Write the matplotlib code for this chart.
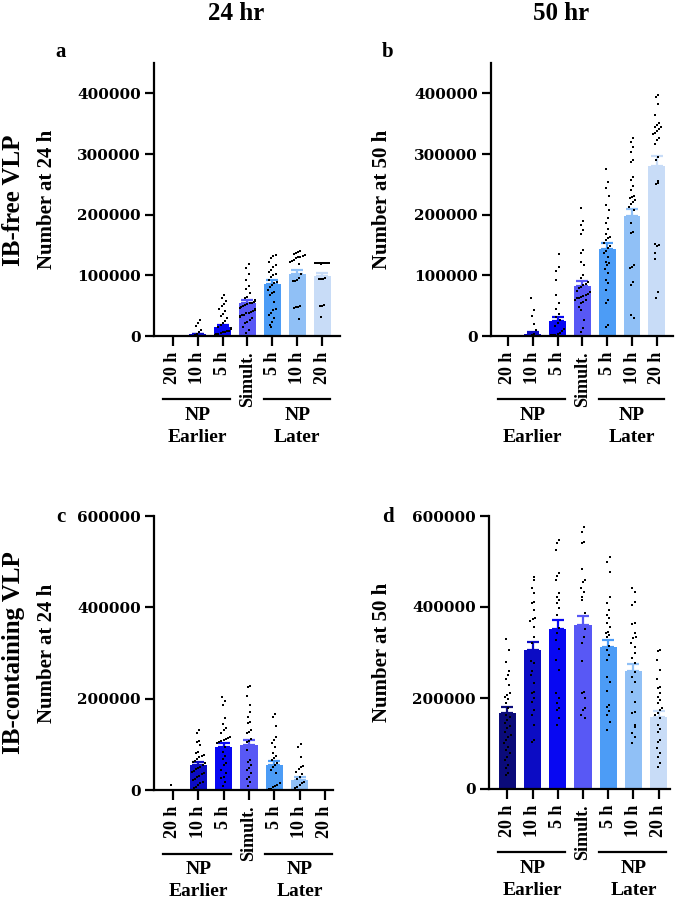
import numpy as np
import matplotlib
matplotlib.use("Agg")
import matplotlib.pyplot as plt
import matplotlib.transforms as mtransforms

plt.rcParams['font.family'] = ['Liberation Serif', 'DejaVu Serif']
plt.rcParams['font.weight'] = 'bold'

# categories / labels
tick_labels = ["20 h", "10 h", "5 h", "Simult.", "5 h", "10 h", "20 h"]
bar_colors = ["#0b0b7a", "#0c0cc4", "#0808f2", "#5858f5", "#4c9cf6", "#90c0f6", "#c8dcf7"]
col_titles = ["24 hr", "50 hr"]
row_titles = ["IB-free VLP", "IB-containing VLP"]
panel_letters = ["a", "b", "c", "d"]
y_labels = ["Number at 24 h", "Number at 50 h", "Number at 24 h", "Number at 50 h"]

# bar means and SEM
mean_a = [0, 2800, 14300, 55000, 86500, 103000, 98500]
sem_a = [0, 1300, 3300, 4000, 5500, 6500, 5500]
mean_b = [0, 2750, 24800, 83000, 143000, 198000, 280500]
sem_b = [0, 3200, 6000, 8000, 10500, 12000, 16000]
mean_c = [0, 54700, 93400, 98500, 54000, 22000, 0]
sem_c = [0, 6000, 8500, 11000, 9500, 5700, 0]
mean_d = [166800, 305000, 352700, 360700, 311000, 259700, 158000]
sem_d = [12500, 17000, 19000, 19000, 16000, 15500, 12500]

# individual points, in thousands
pts_a = [
    [],
    [27, 21, 16, 10.5, 6, 3, 1.5],
    [68, 63, 58, 53, 49, 45, 41, 37, 33, 29, 25, 21, 18, 15, 13, 11, 9, 8, 7, 6, 5, 4, 3, 2, 1],
    [118.6, 111.4, 103, 92, 83, 76.9, 70.3, 64.8, 62, 59.3, 58, 56.5, 55, 53.8, 52, 51, 49, 48.3,
     46, 45.6, 44, 42.8, 41, 40, 38, 37.3, 35, 34.6, 33, 31.8, 29, 26.4, 23, 20.9, 15.4, 9.9, 5.5],
    [133.4, 132, 128, 122.4, 117, 114, 108.7, 105, 103, 100, 97.5, 92.2, 89.5, 86.7, 84, 81, 75.8,
     73, 70.3, 67.5, 56.5, 43.9, 42.8, 37.3, 34.6, 29.1, 23.6, 18.1, 14.3],
    [140, 138, 136, 135, 134, 132, 130, 129.6, 128, 126, 124, 122, 119, 103, 95, 93, 91, 90,
     49.4, 48.3, 47.2, 45.6, 28],
    [121, 120.5, 120, 120, 119.5, 120.8, 120.2, 119.8, 120.6, 120.1, 95, 94.5, 94, 93.5,
     50.5, 50, 49.5, 31.8],
]
pts_b = [
    [],
    [62.7, 42.3, 33, 19.3, 9.4, 3.9, 1, 0.5],
    [135.9, 113.9, 106.7, 93, 67.1, 54.5, 45.1, 36.9, 31.4, 25.9, 21.5, 17.1, 12.1, 8.3, 5, 2.8, 2, 1.5, 1],
    [211.4, 190, 182.8, 174.6, 167.4, 141.6, 137.3, 122.4, 116.9, 100.5, 95, 89.5, 86, 84, 81, 78.5,
     75, 73, 70, 67.5, 66, 64.8, 63, 62, 60, 59.3, 56.5, 53.8, 48.3, 42.8, 26.4, 12.6, 7.1],
    [274.5, 254.2, 243.2, 231.1, 215.7, 207.5, 193.8, 185.6, 175.7, 168, 164, 160.9, 158, 152.6, 148,
     145, 140, 136.2, 130, 122.4, 119.6, 116.9, 110, 104, 92.2, 86.7, 75.8, 59.3, 54.8, 18.1, 15.4],
    [326.7, 320, 311.8, 303.6, 289.9, 287.2, 262.4, 257, 247, 240.5, 231, 229.5, 226.7, 224, 221.2,
     218, 213, 207.5, 185.6, 171.8, 169.1, 116.9, 114.2, 111.4, 89.5, 84, 34.6, 29.1],
    [397, 394.3, 383.2, 365.1, 350.3, 347.5, 345.3, 344.2, 341.5, 338, 335, 332.7, 325.6, 322.8, 317.3,
     294.3, 289.9, 255.8, 251.5, 250.3, 151.5, 149.8, 148.7, 136.2, 126.3, 73, 62],
]
pts_c = [
    [12],
    [131.4, 125.6, 107.3, 104.4, 98.6, 84, 81.8, 76.7, 74.5, 71.5, 67.2, 64.2, 62, 58.4, 54.8, 51.1,
     47.5, 45.3, 42.3, 40.2, 38, 35, 30.7, 27.7, 24.8, 21.9, 18.3, 14.6, 11, 7.3, 5.1],
    [203, 195.6, 186, 157, 143.8, 135, 131.4, 124, 116.8, 113.2, 111, 109.5, 107.3, 105.1, 102.2, 94.9,
     84, 74.5, 67.2, 58.4, 54.8, 43.8, 36.5, 29.2, 25.5, 18.3, 8.8],
    [228.5, 226.3, 205.9, 186.2, 171.5, 160.6, 149.7, 146, 131.4, 127.8, 124.1, 111, 108.1, 105.9, 87.6,
     65.7, 62, 54.8, 47.5, 43.8, 36.5, 29.2, 23.4, 18.3, 8.8],
    [165.7, 160.6, 140.2, 115.3, 109.5, 102.2, 94.9, 80.3, 74.5, 69.4, 65.7, 59.9, 54.8, 49.6, 43.8,
     36.5, 14.6, 11, 8.8, 5.8, 2.9, 1.5],
    [100, 94.9, 73, 52.6, 49.6, 45.3, 40.2, 35, 29.2, 23.4, 18.3, 14.6, 11, 7.3, 3.7],
    [],
]
pts_d = [
    [329.8, 305.6, 280, 260.2, 250.7, 241.9, 228.7, 210.4, 206.7, 203.1, 197.2, 188.4, 177.4, 162.7,
     159, 151.7, 144.4, 138.5, 133.3, 126.1, 118.7, 115.1, 107.8, 100.4, 93.1, 85.8, 78.4, 69.6, 63.8,
     52.8, 45.5, 34.5, 30.8],
    [466.8, 459.5, 441.2, 430.2, 412, 408.3, 393.7, 375.4, 373.2, 370.3, 357.1, 335.1, 321.8, 282.2,
     276.3, 260.2, 250.7, 233.8, 214, 211.8, 199.4, 192, 173.7, 162.7, 140.7, 107.8, 104.1],
    [547.3, 540, 525.4, 474.1, 468.3, 459.5, 430.2, 422.9, 415.6, 408.3, 397.3, 382.7, 353.3, 342.3,
     327.7, 307.1, 283.7, 261.7, 211.8, 199.4, 188.4, 177.4, 173.7, 155.4, 140.7],
    [576.6, 565.6, 543.7, 540, 482.9, 459.5, 455.8, 441.2, 433.9, 422.9, 415.6, 386.3, 351.1, 335,
     320.3, 281.5, 214, 210.4, 199.4, 177.4, 173.7, 162.7, 155.4],
    [510.7, 499.8, 477.8, 422.9, 408.3, 393.7, 382.7, 375.4, 364.4, 357.1, 346.1, 342.3, 338.6, 335.1,
     315.2, 305.7, 294.7, 283.7, 245.6, 236, 216.2, 184.7, 181, 171.5, 162.7, 148.1, 129.7],
    [441.2, 433.9, 412, 404.7, 364.4, 362.8, 342.4, 335.1, 331.3, 320.3, 313, 298.3, 287.3, 277.8,
     258, 247, 236, 214, 192, 170.1, 166.4, 140.7, 137, 122.4, 115.1, 100.4],
    [305.7, 304.2, 283.7, 261.7, 241.2, 225, 221.4, 210.4, 203.1, 195.7, 188.4, 177.4, 173.7, 166.4,
     162.7, 155.4, 140.7, 131.2, 126.1, 107.8, 104.1, 89.4, 78.4, 71.1, 56.4, 49.1],
]

panels = [
    (mean_a, sem_a, pts_a, 450000, [0, 100000, 200000, 300000, 400000]),
    (mean_b, sem_b, pts_b, 450000, [0, 100000, 200000, 300000, 400000]),
    (mean_c, sem_c, pts_c, 600000, [0, 200000, 400000, 600000]),
    (mean_d, sem_d, pts_d, 600000, [0, 200000, 400000, 600000]),
]

# axes boxes in pixels: left, right, top, bottom
boxes = [(154, 340, 63, 336), (491, 673, 63, 336), (154, 333, 516, 790), (489, 670, 516, 789)]
xlims = [(-0.76, 6.72), (-0.68, 6.65), (-0.75, 6.32), (-0.73, 6.45)]
ylabel_x = [57, 392, 57, 392]

W, H = 675, 900
fig = plt.figure(figsize=(W / 100, H / 100), dpi=100)


def spread(vals, x0, binw, dx=0.085):
    # GraphPad-like rows: points in the same value band are laid out side by side
    vals = np.sort(np.asarray(vals, float))
    xs = np.full(len(vals), float(x0))
    if len(vals) == 0:
        return xs, vals
    keys = np.floor(vals / binw)
    for k in np.unique(keys):
        idx = np.where(keys == k)[0]
        n = len(idx)
        off = (np.arange(n) - (n - 1) / 2) * dx
        if n == 1:
            off = np.array([0.06 if int(k) % 2 else -0.06])
        xs[idx] = x0 + np.clip(off, -0.32, 0.32)
    return xs, vals


x = np.arange(len(tick_labels))
for i, (means, sems, pts, ytop, yticks) in enumerate(panels):
    l, r, t, b = boxes[i]
    ax = fig.add_axes([l / W, 1 - b / H, (r - l) / W, (b - t) / H])
    ax.bar(x, means, width=0.68, color=bar_colors, zorder=1)
    for j in range(len(x)):
        if means[j] > 0:
            ax.errorbar(x[j], means[j], yerr=[[0], [sems[j]]], fmt='none', ecolor=bar_colors[j],
                        elinewidth=1.6, capsize=4.5, capthick=1.6, zorder=2)
        xs, ys = spread(np.array(pts[j]) * 1000, x[j], ytop / 30)
        ax.scatter(xs, ys, s=4, color='black', marker='s', linewidths=0, zorder=3, clip_on=False)
    ax.set_xlim(*xlims[i])
    ax.set_ylim(0, ytop)
    ax.set_yticks(yticks)
    ax.set_yticklabels([str(v) for v in yticks], fontsize=11, fontweight='bold', family='DejaVu Serif')
    ax.set_xticks(x)
    ax.set_xticklabels(tick_labels, rotation=90, fontsize=13, fontweight='bold')
    for s in ['top', 'right']:
        ax.spines[s].set_visible(False)
    for s in ['left', 'bottom']:
        ax.spines[s].set_linewidth(1.6)
        ax.spines[s].set_zorder(4)
    ax.tick_params(axis='y', length=6.5, width=1.6, pad=3)
    ax.tick_params(axis='x', length=7, width=1.6, pad=4)
    ax.set_ylabel(y_labels[i], fontsize=15, fontweight='bold')
    ax.yaxis.set_label_coords((ylabel_x[i] - l) / (r - l), 0.5)

    # group brackets below the tick labels
    trans = mtransforms.blended_transform_factory(ax.transData, ax.transAxes)
    ax.plot([-0.38, 2.3], [-0.232, -0.232], color='black', lw=1.6, transform=trans, clip_on=False)
    ax.plot([3.65, 6.3], [-0.232, -0.232], color='black', lw=1.6, transform=trans, clip_on=False)
    ax.text(1, -0.29, "NP", transform=trans, ha='center', va='center', fontsize=14, fontweight='bold')
    ax.text(5, -0.29, "NP", transform=trans, ha='center', va='center', fontsize=14, fontweight='bold')
    ax.text(1, -0.372, "Earlier", transform=trans, ha='center', va='center', fontsize=14, fontweight='bold')
    ax.text(5, -0.372, "Later", transform=trans, ha='center', va='center', fontsize=14, fontweight='bold')

# panel letters
for (px, py), letter in zip([(61, 52), (388, 52), (61, 517), (388, 517)], panel_letters):
    fig.text(px / W, 1 - py / H, letter, ha='center', va='center', fontsize=15, fontweight='bold')

# column and row titles
fig.text(236 / W, 1 - 14 / H, col_titles[0], ha='center', va='center', fontsize=18, fontweight='bold')
fig.text(561 / W, 1 - 14 / H, col_titles[1], ha='center', va='center', fontsize=18, fontweight='bold')
fig.text(14 / W, 1 - 200 / H, row_titles[0], rotation=90, ha='center', va='center', fontsize=18, fontweight='bold')
fig.text(14 / W, 1 - 653 / H, row_titles[1], rotation=90, ha='center', va='center', fontsize=18, fontweight='bold')

fig.savefig("out.png", dpi=100)
